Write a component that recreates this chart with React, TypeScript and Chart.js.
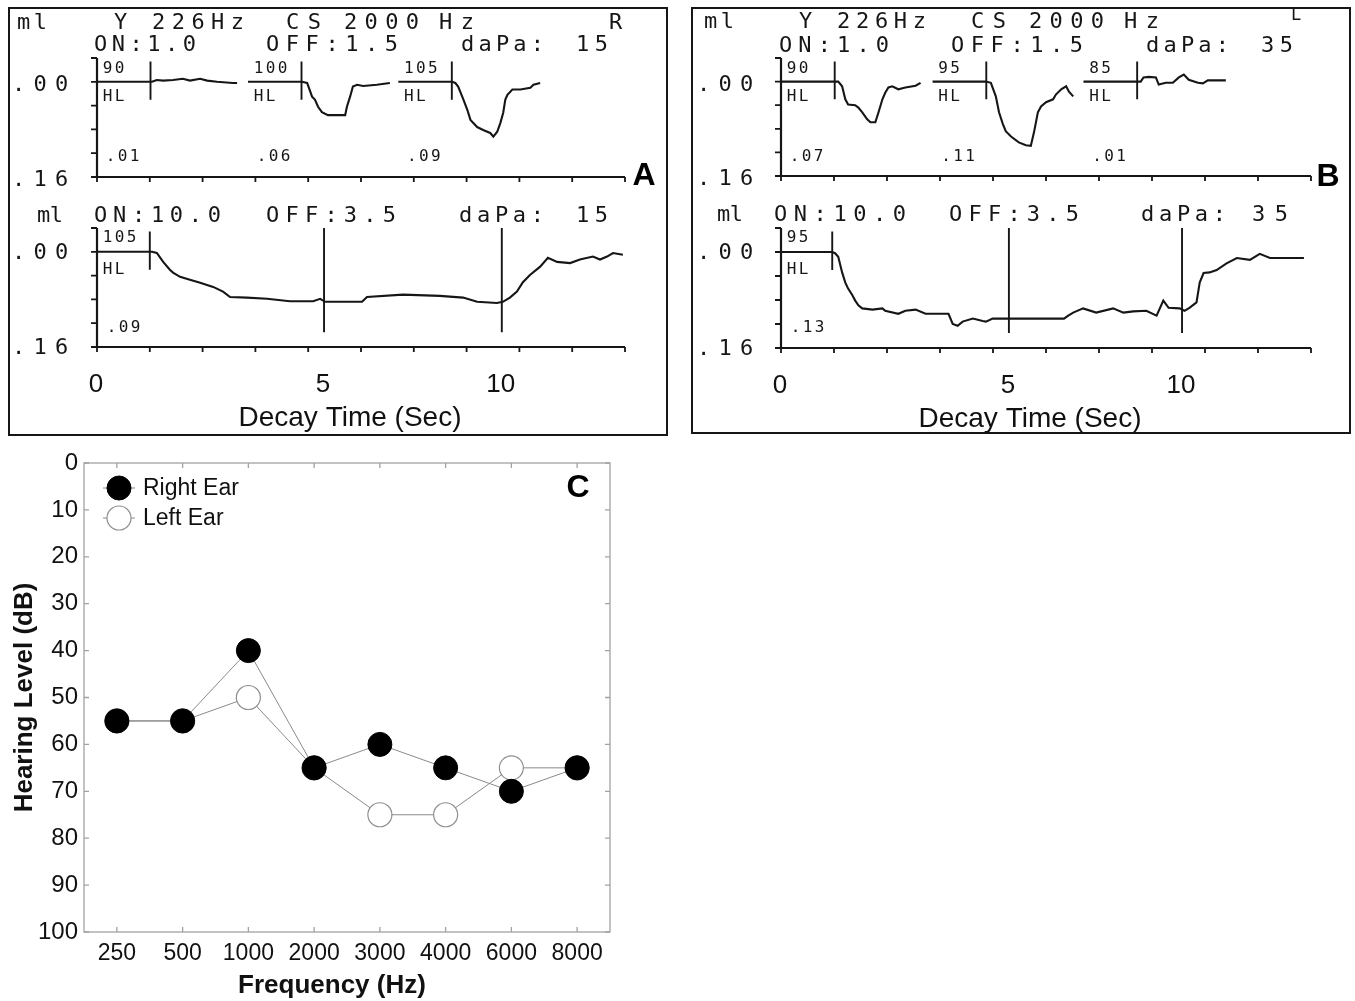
import React, { useEffect, useRef } from 'react';
import { Chart, registerables } from 'chart.js';

Chart.register(...registerables);

type Pt = [number, number];

/* ---------- acoustic reflex printouts (226 Hz probe, 2000 Hz contralateral stimulus) ---------- */

// printout time base (s) and compliance change (ml, drawn downward)
const timeMin = 0;
const timeMax = 15;
const timeTicks = [0, 1.5, 3, 4.5, 6, 7.5, 9, 10.5, 12, 13.5, 15];
const mlMin = -0.04;
const mlMax = 0.16;
const mlTicks = [-0.04, 0, 0.04, 0.08, 0.12, 0.16];
const mlAxisLabels = ['.00', '.16'];
const mlAxisValues = [0, 0.16];
const hlUnit = 'HL';

// three short sweeps per ear (ON 1.0 s / OFF 1.5 s)
const sweepStarts = [0, 4.29, 8.56];
const sweepOnset = 1.52;
const onsetMarkerSpan = [-0.034, 0.03];
const decayMarkerSpan = [-0.04, 0.135];

const decayTickLabels = ['0', '5', '10'];
const decayAxisTitle = 'Decay Time (Sec)';

// ---- right ear (A) ----
const rightHeaderLine1 = ['ml', 'Y', '226Hz', 'CS', '2000', 'Hz', 'R'];
const rightHeaderLine2 = ['ON:1.0', 'OFF:1.5', 'daPa:', '15'];
const rightHeaderDecay = ['ml', 'ON:10.0', 'OFF:3.5', 'daPa:', '15'];
const rightSweepLevels = ['90', '100', '105'];
const rightSweepPeaks = ['.01', '.06', '.09'];
const rightSweep90: Pt[] = [
  [0, 0], [1.52, 0], [1.56, 0], [1.7, -0.003], [1.88, -0.002], [2.16, -0.003], [2.44, -0.005],
  [2.64, -0.002], [2.93, -0.005], [3.13, -0.002], [3.41, 0], [3.86, 0.002], [3.98, 0.002],
];
const rightSweep100: Pt[] = [
  [0, 0], [1.53, 0], [1.68, 0.002], [1.82, 0.025], [1.9, 0.03], [1.99, 0.042], [2.1, 0.051],
  [2.27, 0.056], [2.76, 0.056], [2.81, 0.042], [2.9, 0.025], [2.98, 0.008], [3.1, 0.005],
  [3.27, 0.007], [3.66, 0.005], [4.03, 0.002],
];
const rightSweep105: Pt[] = [
  [0, 0], [1.53, 0], [1.62, 0.002], [1.7, 0.008], [1.85, 0.03], [1.96, 0.047], [2.05, 0.064],
  [2.24, 0.076], [2.41, 0.081], [2.61, 0.086], [2.7, 0.092], [2.81, 0.084], [2.9, 0.069],
  [2.98, 0.052], [3.04, 0.03], [3.1, 0.022], [3.24, 0.013], [3.47, 0.013], [3.75, 0.01],
  [3.84, 0.005], [4.03, 0.002],
];
const rightDecayLevel = '105';
const rightDecayPeak = '.09';
const rightDecayMarks = [1.5, 6.45, 11.5];
const rightDecay105: Pt[] = [
  [0, 0], [1.5, 0], [1.56, 0], [1.7, 0.002], [1.88, 0.017], [2.07, 0.03], [2.16, 0.035],
  [2.36, 0.042], [2.64, 0.047], [2.93, 0.052], [3.3, 0.059], [3.58, 0.067], [3.78, 0.076],
  [4.26, 0.077], [4.83, 0.079], [5.48, 0.083], [6.14, 0.083], [6.34, 0.079], [6.48, 0.084],
  [7.53, 0.084], [7.67, 0.076], [8.69, 0.072], [9.74, 0.074], [10.4, 0.077], [10.8, 0.084],
  [11.36, 0.086], [11.53, 0.084], [11.73, 0.077], [11.93, 0.067], [12.1, 0.051], [12.3, 0.039],
  [12.59, 0.025], [12.81, 0.01], [13.07, 0.017], [13.44, 0.019], [13.72, 0.013], [14.09, 0.008],
  [14.29, 0.013], [14.49, 0.008], [14.66, 0.002], [14.94, 0.005],
];

// ---- left ear (B) ----
const leftHeaderLine1 = ['ml', 'Y', '226Hz', 'CS', '2000', 'Hz', 'L'];
const leftHeaderLine2 = ['ON:1.0', 'OFF:1.5', 'daPa:', '35'];
const leftHeaderDecay = ['ml', 'ON:10.0', 'OFF:3.5', 'daPa:', '35'];
const leftSweepLevels = ['90', '95', '85'];
const leftSweepPeaks = ['.07', '.11', '.01'];
const leftSweep90: Pt[] = [
  [0, 0], [1.53, 0], [1.62, 0], [1.73, 0.008], [1.82, 0.03], [1.9, 0.039], [2.1, 0.04],
  [2.19, 0.044], [2.3, 0.052], [2.44, 0.064], [2.53, 0.069], [2.67, 0.069], [2.76, 0.052],
  [2.87, 0.03], [2.95, 0.019], [3.04, 0.01], [3.15, 0.008], [3.32, 0.013], [3.52, 0.01],
  [3.81, 0.007], [3.95, 0.002],
];
const leftSweep95: Pt[] = [
  [0, 0], [1.51, 0], [1.65, 0.002], [1.79, 0.025], [1.88, 0.052], [1.99, 0.072], [2.07, 0.084],
  [2.22, 0.093], [2.44, 0.103], [2.64, 0.108], [2.78, 0.109], [2.87, 0.086], [2.98, 0.052],
  [3.07, 0.042], [3.21, 0.035], [3.41, 0.03], [3.49, 0.022], [3.64, 0.013], [3.78, 0.008],
  [3.86, 0.017], [3.98, 0.025],
];
const leftSweep85: Pt[] = [
  [0, 0], [1.53, 0], [1.62, 0], [1.7, -0.007], [1.85, -0.008], [2.05, -0.007], [2.13, 0.005],
  [2.33, 0.002], [2.53, 0.002], [2.7, -0.007], [2.84, -0.012], [2.98, -0.003], [3.24, 0.002],
  [3.38, 0.003], [3.52, -0.002], [3.75, -0.002], [4.03, -0.002],
];
const leftDecayLevel = '95';
const leftDecayPeak = '.13';
const leftDecayMarks = [1.45, 6.45, 11.35];
const leftDecay95: Pt[] = [
  [0, 0], [1.45, 0], [1.53, 0.002], [1.62, 0.008], [1.73, 0.034], [1.82, 0.051], [1.9, 0.061],
  [2.02, 0.072], [2.1, 0.081], [2.19, 0.089], [2.3, 0.094], [2.59, 0.096], [2.87, 0.094],
  [2.95, 0.098], [3.32, 0.103], [3.52, 0.098], [3.81, 0.096], [4.09, 0.103], [4.74, 0.103],
  [4.86, 0.12], [5.0, 0.123], [5.14, 0.116], [5.43, 0.111], [5.71, 0.115], [5.8, 0.116],
  [5.99, 0.111], [8.01, 0.111], [8.13, 0.106], [8.27, 0.101], [8.55, 0.094], [8.92, 0.101],
  [9.4, 0.094], [9.69, 0.101], [9.97, 0.099], [10.34, 0.098], [10.63, 0.106], [10.82, 0.081],
  [10.97, 0.093], [11.28, 0.094], [11.42, 0.098], [11.56, 0.093], [11.76, 0.084], [11.85, 0.051],
  [11.96, 0.035], [12.13, 0.034], [12.33, 0.03], [12.61, 0.019], [12.9, 0.01], [13.27, 0.013],
  [13.55, 0.003], [13.84, 0.01], [14.12, 0.01], [14.8, 0.01],
];

/* ---------- audiogram (C) ---------- */
const frequencies = ['250', '500', '1000', '2000', '3000', '4000', '6000', '8000'];
const rightEarDb = [55, 55, 40, 65, 60, 65, 70, 65];
const leftEarDb = [55, 55, 50, 65, 75, 75, 65, 65];
const hearingMin = 0;
const hearingMax = 100;
const hearingStep = 10;
const audiogramLegend = ['Right Ear', 'Left Ear'];
const audiogramXTitle = 'Frequency (Hz)';
const audiogramYTitle = 'Hearing Level (dB)';

/* ---------- styling / layout ---------- */
const INK = '#161616';
const MONO = '"DejaVu Sans Mono", "Liberation Mono", monospace';
const SANS = '"Liberation Sans", Arial, Helvetica, sans-serif';
const FRAME = '#a2a2a2';
const CONNECT = '#8a8a8a';
const HEADER_SIZE = 22;

type Rect = { left: number; top: number; width: number; height: number };
type Area = { left: number; right: number; top: number; bottom: number };
type Slot = [number, number, number, number?];

const panelA: Rect = { left: 8, top: 7, width: 660, height: 429 };
const panelB: Rect = { left: 691, top: 7, width: 660, height: 427 };

const rectATop: Rect = { left: 10, top: 9, width: 656, height: 192 };
const rectABottom: Rect = { left: 10, top: 201, width: 656, height: 233 };
const rectBTop: Rect = { left: 693, top: 9, width: 656, height: 192 };
const rectBBottom: Rect = { left: 693, top: 201, width: 656, height: 233 };
const rectC: Rect = { left: 0, top: 440, width: 640, height: 561 };

const areaATop: Area = { left: 97, right: 625, top: 58, bottom: 177 };
const areaABottom: Area = { left: 97, right: 625, top: 228, bottom: 347 };
const areaBTop: Area = { left: 781, right: 1311, top: 58, bottom: 176 };
const areaBBottom: Area = { left: 781, right: 1311, top: 228, bottom: 348 };

const slotsATop: Slot[] = [
  [17, 47, 23], [114, 128, 23], [152, 244, 23], [286, 321, 23], [344, 419, 23], [439, 474, 23], [609, 623, 23],
  [94, 196, 45], [266, 398, 45], [461, 544, 45], [576, 608, 45],
];
const slotsABottom: Slot[] = [[37, 63, 216], [94, 221, 216], [266, 396, 216], [459, 544, 216], [576, 608, 216]];
const slotsBTop: Slot[] = [
  [704, 734, 22], [799, 813, 22], [837, 926, 22], [971, 1006, 22], [1029, 1104, 22], [1124, 1159, 22], [1291, 1304, 16, 17],
  [779, 889, 46], [951, 1083, 46], [1146, 1229, 46], [1261, 1293, 46],
];
const slotsBBottom: Slot[] = [[717, 743, 215], [774, 906, 215], [949, 1079, 215], [1141, 1226, 215], [1252, 1288, 215]];

/* ---------- drawing helpers ---------- */
function spread(ctx: CanvasRenderingContext2D, text: string, x0: number, x1: number, y: number, glyph: number) {
  const n = text.length;
  const pitch = n > 1 ? (x1 - x0 - glyph) / (n - 1) : 0;
  ctx.textAlign = 'center';
  ctx.textBaseline = 'middle';
  for (let i = 0; i < n; i++) {
    if (text[i] !== ' ') ctx.fillText(text[i], x0 + glyph / 2 + i * pitch, y);
  }
}

function small(ctx: CanvasRenderingContext2D, text: string, x0: number, y: number) {
  ctx.font = `16px ${MONO}`;
  ctx.textAlign = 'center';
  ctx.textBaseline = 'middle';
  for (let i = 0; i < text.length; i++) ctx.fillText(text[i], x0 + 5.5 + i * 12, y);
}

function drawTokens(ctx: CanvasRenderingContext2D, tokens: string[], slots: Slot[]) {
  ctx.fillStyle = INK;
  tokens.forEach((tok, i) => {
    const [x0, x1, y, size] = slots[i];
    const fs = size ?? HEADER_SIZE;
    ctx.font = `${fs}px ${MONO}`;
    spread(ctx, tok, x0, x1, y, fs * 0.6);
  });
}

type PageX = (t: number) => number;
type PageY = (v: number) => number;

interface RowConfig {
  rect: Rect;
  area: Area;
  datasets: any[];
  overlay: (ctx: CanvasRenderingContext2D, px: PageX, py: PageY) => void;
}

function traceDataset(points: Pt[], shift: number) {
  return {
    data: points.map(([t, v]) => ({ x: t + shift, y: v })),
    borderColor: INK,
    borderWidth: 2.1,
    pointRadius: 0,
    tension: 0,
    fill: false,
  };
}

function markerDataset(t: number, span: number[]) {
  return {
    data: [{ x: t, y: span[0] }, { x: t, y: span[1] }],
    borderColor: INK,
    borderWidth: 1.9,
    pointRadius: 0,
    fill: false,
  };
}

function makeRow(canvas: HTMLCanvasElement, cfg: RowConfig): Chart {
  const { rect, area } = cfg;
  const deco = {
    id: 'printoutDeco',
    beforeDatasetsDraw(c: Chart) {
      const ctx = c.ctx;
      const px = (t: number) => c.scales.x.getPixelForValue(t);
      const py = (v: number) => c.scales.y.getPixelForValue(v);
      const x0 = px(timeMin);
      const x1 = px(timeMax);
      const yB = py(mlMax);
      ctx.save();
      ctx.strokeStyle = INK;
      ctx.lineWidth = 2.2;
      ctx.beginPath();
      ctx.moveTo(x0, py(mlMin));
      ctx.lineTo(x0, yB);
      ctx.lineTo(x1, yB);
      ctx.stroke();
      ctx.lineWidth = 1.8;
      ctx.beginPath();
      mlTicks.forEach((v) => {
        ctx.moveTo(x0 - 6, py(v));
        ctx.lineTo(x0, py(v));
      });
      timeTicks.forEach((t) => {
        ctx.moveTo(px(t), yB);
        ctx.lineTo(px(t), yB + 5);
      });
      ctx.stroke();
      ctx.restore();
    },
    afterDatasetsDraw(c: Chart) {
      const ctx = c.ctx;
      ctx.save();
      ctx.translate(-rect.left, -rect.top);
      cfg.overlay(
        ctx,
        (t) => c.scales.x.getPixelForValue(t) + rect.left,
        (v) => c.scales.y.getPixelForValue(v) + rect.top,
      );
      ctx.restore();
    },
  };
  return new Chart(canvas, {
    type: 'line',
    data: { datasets: cfg.datasets },
    options: {
      responsive: false,
      animation: false,
      events: [],
      layout: {
        autoPadding: false,
        padding: {
          left: area.left - rect.left,
          right: rect.left + rect.width - area.right,
          top: area.top - rect.top,
          bottom: rect.top + rect.height - area.bottom,
        },
      },
      plugins: { legend: { display: false }, tooltip: { enabled: false } },
      scales: {
        x: { type: 'linear', min: timeMin, max: timeMax, display: false },
        y: { type: 'linear', min: mlMin, max: mlMax, reverse: true, display: false },
      },
    } as any,
    plugins: [deco],
  });
}

function sweepRow(
  rect: Rect, area: Area, sweeps: Pt[][], levels: string[], peaks: string[],
  tokens: string[], slots: Slot[], labelX: [number, number], letter: string, letterPos: [number, number],
): RowConfig {
  const datasets: any[] = [];
  sweeps.forEach((pts, k) => {
    datasets.push(traceDataset(pts, sweepStarts[k]));
    datasets.push(markerDataset(sweepStarts[k] + sweepOnset, onsetMarkerSpan));
  });
  return {
    rect, area, datasets,
    overlay: (ctx, px, py) => {
      drawTokens(ctx, tokens, slots);
      ctx.font = `${HEADER_SIZE}px ${MONO}`;
      mlAxisLabels.forEach((s, i) => spread(ctx, s, labelX[0], labelX[1], py(mlAxisValues[i]) + 3.5, 13));
      sweepStarts.forEach((s, k) => {
        const x = px(s);
        small(ctx, levels[k], x + 5, py(0) - 13);
        small(ctx, hlUnit, x + 5, py(0) + 15);
        small(ctx, peaks[k], x + 8, py(0) + 75);
      });
      ctx.font = `bold 32px ${SANS}`;
      ctx.fillStyle = '#000';
      ctx.textAlign = 'center';
      ctx.textBaseline = 'middle';
      ctx.fillText(letter, letterPos[0], letterPos[1]);
    },
  };
}

function decayRow(
  rect: Rect, area: Area, trace: Pt[], marks: number[], level: string, peak: string,
  tokens: string[], slots: Slot[], labelX: [number, number], titleX: number,
): RowConfig {
  const datasets: any[] = [traceDataset(trace, 0)];
  marks.forEach((t, i) => datasets.push(markerDataset(t, i === 0 ? onsetMarkerSpan : decayMarkerSpan)));
  const tickAt = [timeMin, marks[1], marks[2]];
  return {
    rect, area, datasets,
    overlay: (ctx, px, py) => {
      drawTokens(ctx, tokens, slots);
      ctx.font = `${HEADER_SIZE}px ${MONO}`;
      mlAxisLabels.forEach((s, i) => spread(ctx, s, labelX[0], labelX[1], py(mlAxisValues[i]) + 1, 13));
      const x = px(timeMin);
      small(ctx, level, x + 5, py(0) - 14);
      small(ctx, hlUnit, x + 5, py(0) + 18);
      small(ctx, peak, x + 9, py(0) + 76);
      const base = py(mlMax);
      ctx.fillStyle = '#111';
      ctx.textAlign = 'center';
      ctx.textBaseline = 'middle';
      ctx.font = `26px ${SANS}`;
      decayTickLabels.forEach((s, i) => ctx.fillText(s, px(tickAt[i]) - 1, base + 38));
      ctx.font = `28px ${SANS}`;
      ctx.fillText(decayAxisTitle, titleX, base + 71);
    },
  };
}

function makeAudiogram(canvas: HTMLCanvasElement): Chart {
  const deco = {
    id: 'audiogramDeco',
    beforeDatasetsDraw(c: Chart) {
      const { ctx, chartArea: a } = c;
      const xs = c.scales.x;
      const ys = c.scales.y;
      ctx.save();
      ctx.strokeStyle = FRAME;
      ctx.lineWidth = 1.3;
      ctx.strokeRect(a.left, a.top, a.right - a.left, a.bottom - a.top);
      ctx.beginPath();
      frequencies.forEach((_, i) => {
        const x = xs.getPixelForValue(i);
        ctx.moveTo(x, a.top);
        ctx.lineTo(x, a.top + 5);
        ctx.moveTo(x, a.bottom);
        ctx.lineTo(x, a.bottom - 5);
      });
      ys.ticks.forEach((t) => {
        const y = ys.getPixelForValue(t.value);
        ctx.moveTo(a.left, y);
        ctx.lineTo(a.left + 5, y);
        ctx.moveTo(a.right, y);
        ctx.lineTo(a.right - 5, y);
      });
      ctx.stroke();
      ctx.restore();
    },
    afterDatasetsDraw(c: Chart) {
      const ctx = c.ctx;
      ctx.save();
      ctx.translate(-rectC.left, -rectC.top);
      // legend
      c.data.datasets.forEach((ds: any, i: number) => {
        const y = 488 + i * 30;
        ctx.strokeStyle = CONNECT;
        ctx.lineWidth = 1;
        ctx.beginPath();
        ctx.moveTo(103, y);
        ctx.lineTo(135, y);
        ctx.stroke();
        ctx.beginPath();
        ctx.arc(119, y, ds.pointRadius, 0, Math.PI * 2);
        ctx.fillStyle = ds.pointBackgroundColor;
        ctx.fill();
        ctx.lineWidth = ds.pointBorderWidth;
        ctx.strokeStyle = ds.pointBorderColor;
        ctx.stroke();
        ctx.fillStyle = '#111';
        ctx.font = `23px ${SANS}`;
        ctx.textAlign = 'left';
        ctx.textBaseline = 'middle';
        ctx.fillText(audiogramLegend[i], 143, y + 1);
      });
      ctx.fillStyle = '#000';
      ctx.font = `bold 32px ${SANS}`;
      ctx.textAlign = 'center';
      ctx.fillText('C', 578, 488);
      ctx.font = `bold 26px ${SANS}`;
      ctx.fillStyle = '#111';
      ctx.fillText(audiogramXTitle, 332, 986);
      ctx.restore();
    },
  };
  return new Chart(canvas, {
    type: 'line',
    data: {
      labels: frequencies,
      datasets: [
        {
          label: audiogramLegend[0],
          data: rightEarDb,
          borderColor: CONNECT,
          borderWidth: 1,
          tension: 0,
          pointRadius: 12,
          pointBackgroundColor: '#000',
          pointBorderColor: '#000',
          pointBorderWidth: 1,
        },
        {
          label: audiogramLegend[1],
          data: leftEarDb,
          borderColor: CONNECT,
          borderWidth: 1,
          tension: 0,
          pointRadius: 12,
          pointBackgroundColor: '#fff',
          pointBorderColor: '#8f8f8f',
          pointBorderWidth: 1.2,
        },
      ],
    },
    options: {
      responsive: false,
      animation: false,
      events: [],
      layout: { autoPadding: false, padding: { top: 23, right: 30, left: 0, bottom: 0 } },
      plugins: { legend: { display: false }, tooltip: { enabled: false } },
      scales: {
        x: {
          type: 'category',
          offset: true,
          grid: { display: false, drawTicks: false },
          border: { display: false },
          ticks: { font: { family: SANS, size: 23 }, color: '#111', padding: 8, maxRotation: 0, autoSkip: false },
          afterFit: (s: any) => { s.height = 69; },
        },
        y: {
          type: 'linear',
          min: hearingMin,
          max: hearingMax,
          reverse: true,
          grid: { display: false, drawTicks: false },
          border: { display: false },
          ticks: { stepSize: hearingStep, font: { family: SANS, size: 24 }, color: '#111', padding: 6 },
          title: {
            display: true,
            text: audiogramYTitle,
            font: { family: SANS, size: 26, weight: 'bold' },
            color: '#111',
            padding: { top: 9, bottom: 0 },
          },
          afterFit: (s: any) => { s.width = 84; },
        },
      },
    } as any,
    plugins: [deco],
  });
}

const boxStyle = (r: Rect): React.CSSProperties => ({
  position: 'absolute',
  left: r.left,
  top: r.top,
  width: r.width,
  height: r.height,
  border: `2px solid ${INK}`,
  boxSizing: 'border-box',
});

const canvasStyle = (r: Rect): React.CSSProperties => ({
  position: 'absolute',
  left: r.left,
  top: r.top,
  width: r.width,
  height: r.height,
});

export default function App() {
  const aTop = useRef<HTMLCanvasElement>(null);
  const aBottom = useRef<HTMLCanvasElement>(null);
  const bTop = useRef<HTMLCanvasElement>(null);
  const bBottom = useRef<HTMLCanvasElement>(null);
  const cRef = useRef<HTMLCanvasElement>(null);

  useEffect(() => {
    const charts: Chart[] = [
      makeRow(aTop.current!, sweepRow(
        rectATop, areaATop, [rightSweep90, rightSweep100, rightSweep105], rightSweepLevels, rightSweepPeaks,
        [...rightHeaderLine1, ...rightHeaderLine2], slotsATop, [12, 68], 'A', [644, 176],
      )),
      makeRow(aBottom.current!, decayRow(
        rectABottom, areaABottom, rightDecay105, rightDecayMarks, rightDecayLevel, rightDecayPeak,
        rightHeaderDecay, slotsABottom, [12, 68], 350,
      )),
      makeRow(bTop.current!, sweepRow(
        rectBTop, areaBTop, [leftSweep90, leftSweep95, leftSweep85], leftSweepLevels, leftSweepPeaks,
        [...leftHeaderLine1, ...leftHeaderLine2], slotsBTop, [697, 753], 'B', [1328, 177],
      )),
      makeRow(bBottom.current!, decayRow(
        rectBBottom, areaBBottom, leftDecay95, leftDecayMarks, leftDecayLevel, leftDecayPeak,
        leftHeaderDecay, slotsBBottom, [697, 753], 1030,
      )),
      makeAudiogram(cRef.current!),
    ];
    return () => charts.forEach((ch) => ch.destroy());
  }, []);

  return (
    <div style={{ position: 'absolute', left: 0, top: 0, width: 1355, height: 1001, background: '#fff', overflow: 'hidden' }}>
      <div style={boxStyle(panelA)} />
      <div style={boxStyle(panelB)} />
      <canvas ref={aTop} width={rectATop.width} height={rectATop.height} style={canvasStyle(rectATop)} />
      <canvas ref={aBottom} width={rectABottom.width} height={rectABottom.height} style={canvasStyle(rectABottom)} />
      <canvas ref={bTop} width={rectBTop.width} height={rectBTop.height} style={canvasStyle(rectBTop)} />
      <canvas ref={bBottom} width={rectBBottom.width} height={rectBBottom.height} style={canvasStyle(rectBBottom)} />
      <canvas ref={cRef} width={rectC.width} height={rectC.height} style={canvasStyle(rectC)} />
    </div>
  );
}
